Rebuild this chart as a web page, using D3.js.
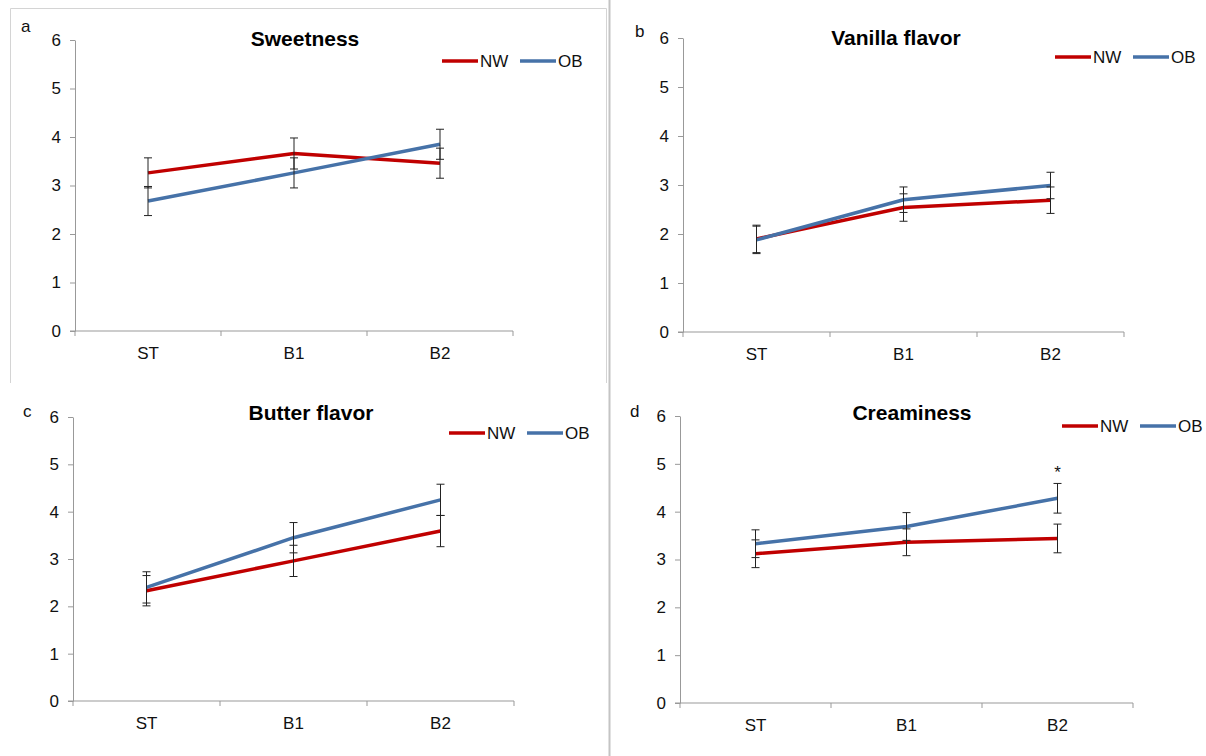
<!DOCTYPE html>
<html>
<head>
<meta charset="utf-8">
<script src="https://cdn.jsdelivr.net/npm/d3@7"></script>
<style>
  body { margin: 0; background: #fff; }
  svg { display: block; font-family: Arial, 'Liberation Sans', sans-serif; }
</style>
</head>
<body>
<svg id="chart" width="1206" height="756"></svg>
<script>
const categories = ['ST', 'B1', 'B2']
const seriesNames = ['NW', 'OB']
const yTicks = [0, 1, 2, 3, 4, 5, 6]

// a: sweetness
const sweetNW = [3.26, 3.66, 3.46]
const sweetNWErr = [0.31, 0.32, 0.31]
const sweetOB = [2.68, 3.26, 3.85]
const sweetOBErr = [0.30, 0.31, 0.31]

// b: vanilla flavor
const vanillaNW = [1.90, 2.54, 2.69]
const vanillaNWErr = [0.28, 0.28, 0.27]
const vanillaOB = [1.88, 2.70, 2.99]
const vanillaOBErr = [0.28, 0.26, 0.27]

// c: butter flavor
const butterNW = [2.33, 2.96, 3.59]
const butterNWErr = [0.32, 0.33, 0.33]
const butterOB = [2.40, 3.45, 4.25]
const butterOBErr = [0.33, 0.32, 0.33]

// d: creaminess
const creamNW = [3.12, 3.36, 3.44]
const creamNWErr = [0.29, 0.28, 0.30]
const creamOB = [3.33, 3.69, 4.28]
const creamOBErr = [0.29, 0.29, 0.31]
const creamMarks = ['', '', '*'] // significance, above OB

const colors = { NW: '#c00000', OB: '#4672a8' }
const textColor = '#111'
const fontSize = 17

// layout per panel (plot box in page px)
const panels = [
  { letter: 'a', title: 'Sweetness', nw: sweetNW, nwErr: sweetNWErr, ob: sweetOB, obErr: sweetOBErr,
    x0: 75, x1: 513, y0: 331, y1: 40, titleX: 305, titleY: 46, letterX: 21, letterY: 32, legX: 442, legY: 61 },
  { letter: 'b', title: 'Vanilla flavor', nw: vanillaNW, nwErr: vanillaNWErr, ob: vanillaOB, obErr: vanillaOBErr,
    x0: 683, x1: 1124, y0: 332, y1: 38, titleX: 896, titleY: 45, letterX: 635, letterY: 37, legX: 1055, legY: 57 },
  { letter: 'c', title: 'Butter flavor', nw: butterNW, nwErr: butterNWErr, ob: butterOB, obErr: butterOBErr,
    x0: 73, x1: 514, y0: 701, y1: 417, titleX: 311, titleY: 420, letterX: 23, letterY: 417, legX: 449, legY: 433 },
  { letter: 'd', title: 'Creaminess', nw: creamNW, nwErr: creamNWErr, ob: creamOB, obErr: creamOBErr, marks: creamMarks,
    x0: 680, x1: 1133, y0: 703, y1: 416, titleX: 912, titleY: 420, letterX: 630, letterY: 417, legX: 1062, legY: 426 }
]

const svg = d3.select('#chart')

function label(parent, x, y, str, size, anchor = 'start', bold = false) {
  return parent.append('text')
    .attr('x', x).attr('y', y)
    .attr('text-anchor', anchor)
    .attr('font-size', size)
    .attr('font-weight', bold ? 'bold' : 'normal')
    .attr('fill', bold ? '#000' : textColor)
    .text(str)
}

// frame lines of the pasted figure
svg.append('path')
  .attr('d', 'M10.5,383V8.5H606.5V383')
  .attr('fill', 'none')
  .attr('stroke', '#d4d4d4')
  .attr('stroke-width', 1)
svg.append('line')
  .attr('x1', 609.5).attr('x2', 609.5)
  .attr('y1', 0).attr('y2', 756)
  .attr('stroke', '#c4c4c4')
  .attr('stroke-width', 2)

function renderPanel(p) {
  const g = svg.append('g')

  const x = d3.scaleBand().domain(categories).range([p.x0, p.x1])
  const y = d3.scaleLinear().domain([0, 6]).range([p.y0, p.y1])
  const cx = d => x(d) + x.bandwidth() / 2

  // y axis
  const yAxis = g.append('g')
    .attr('transform', `translate(${p.x0},0)`)
    .call(d3.axisLeft(y).tickValues(yTicks).tickFormat(d3.format('d'))
      .tickSize(5).tickPadding(9).tickSizeOuter(0))
  yAxis.select('.domain').attr('stroke', '#999')
  yAxis.selectAll('.tick line').attr('stroke', '#999')
  yAxis.selectAll('.tick text')
    .attr('font-size', fontSize)
    .attr('fill', textColor)
    .attr('font-family', 'Arial, Liberation Sans, sans-serif')

  // x axis: labels at band centres, ticks at band edges
  const xAxis = g.append('g')
    .attr('transform', `translate(0,${p.y0})`)
    .call(d3.axisBottom(x).tickSize(0).tickPadding(15.5))
  xAxis.select('.domain').remove()
  xAxis.selectAll('.tick text')
    .attr('font-size', fontSize)
    .attr('fill', textColor)
    .attr('font-family', 'Arial, Liberation Sans, sans-serif')
  g.append('line')
    .attr('x1', p.x0 - 5).attr('x2', p.x1)
    .attr('y1', p.y0).attr('y2', p.y0)
    .attr('stroke', '#999')
  const edges = categories.map(c => x(c)).concat([p.x1])
  g.selectAll('.xedge')
    .data(edges)
    .join('line')
    .attr('x1', d => d).attr('x2', d => d)
    .attr('y1', p.y0).attr('y2', p.y0 + 5)
    .attr('stroke', '#999')

  // lines
  const line = d3.line()
    .x((d, i) => cx(categories[i]))
    .y(d => y(d))
  const series = [
    { name: 'NW', vals: p.nw, errs: p.nwErr },
    { name: 'OB', vals: p.ob, errs: p.obErr }
  ]
  series.forEach(s => {
    g.append('path')
      .datum(s.vals)
      .attr('d', line)
      .attr('fill', 'none')
      .attr('stroke', colors[s.name])
      .attr('stroke-width', 3.5)
      .attr('stroke-linejoin', 'round')
  })

  // error bars
  series.forEach(s => {
    const eb = g.append('g').attr('stroke', '#222').attr('stroke-width', 1)
    s.vals.forEach((v, i) => {
      const xc = cx(categories[i])
      const hi = y(v + s.errs[i])
      const lo = y(v - s.errs[i])
      eb.append('line').attr('x1', xc).attr('x2', xc).attr('y1', hi).attr('y2', lo)
      eb.append('line').attr('x1', xc - 4).attr('x2', xc + 4).attr('y1', hi).attr('y2', hi)
      eb.append('line').attr('x1', xc - 4).attr('x2', xc + 4).attr('y1', lo).attr('y2', lo)
    })
  })

  // significance marks
  if (p.marks) {
    p.marks.forEach((m, i) => {
      if (!m) return
      label(g, cx(categories[i]), y(p.ob[i] + p.obErr[i]) - 5, m, fontSize, 'middle')
    })
  }

  // title + panel letter
  label(g, p.titleX, p.titleY, p.title, 21, 'middle', true)
  label(g, p.letterX, p.letterY, p.letter, fontSize)

  // legend
  seriesNames.forEach((name, i) => {
    const lx = p.legX + i * 78
    g.append('line')
      .attr('x1', lx).attr('x2', lx + 36)
      .attr('y1', p.legY).attr('y2', p.legY)
      .attr('stroke', colors[name])
      .attr('stroke-width', 3.5)
    label(g, lx + 38, p.legY + 6.1, name, fontSize)
  })
}

panels.forEach(renderPanel)
</script>
</body>
</html>
